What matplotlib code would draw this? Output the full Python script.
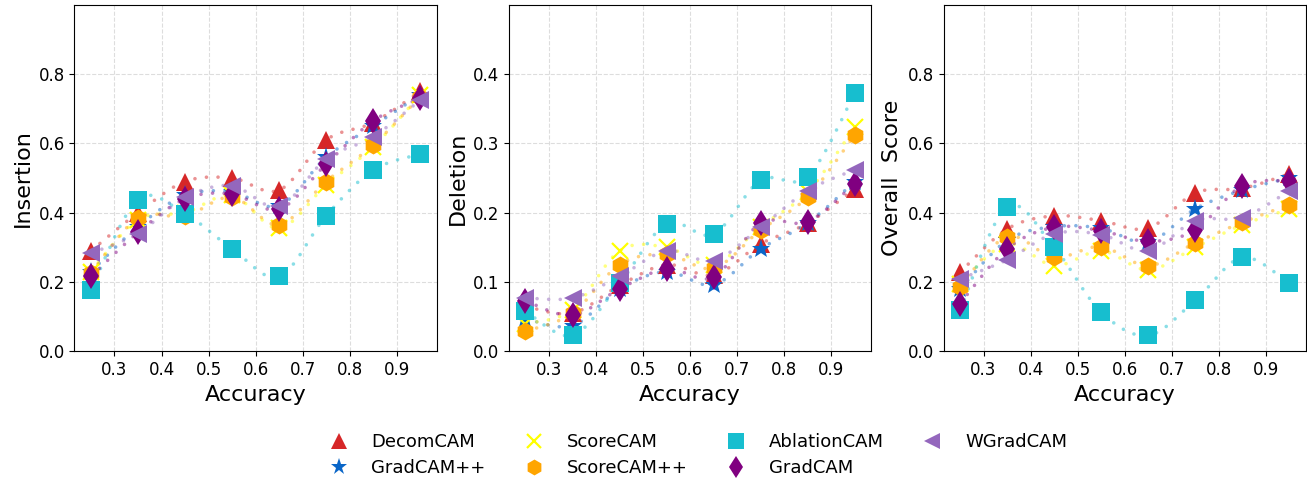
import numpy as np
import matplotlib
matplotlib.use("Agg")
import matplotlib.pyplot as plt
from matplotlib.path import Path
from matplotlib.patches import PathPatch

accuracy = [0.25, 0.35, 0.45, 0.55, 0.65, 0.75, 0.85, 0.95]

methods = ["DecomCAM", "GradCAM++", "ScoreCAM", "ScoreCAM++",
           "AblationCAM", "GradCAM", "WGradCAM"]

insertion = {
    "DecomCAM":    [0.29, 0.40, 0.49, 0.50, 0.465, 0.61, 0.66, 0.75],
    "GradCAM++":   [0.23, 0.36, 0.45, 0.46, 0.42, 0.56, 0.65, 0.74],
    "ScoreCAM":    [0.23, 0.38, 0.40, 0.45, 0.355, 0.48, 0.59, 0.74],
    "ScoreCAM++":  [0.225, 0.385, 0.39, 0.445, 0.365, 0.49, 0.595, 0.735],
    "AblationCAM": [0.178, 0.438, 0.397, 0.296, 0.216, 0.391, 0.523, 0.569],
    "GradCAM":     [0.216, 0.343, 0.44, 0.454, 0.41, 0.54, 0.665, 0.73],
    "WGradCAM":    [0.283, 0.34, 0.444, 0.478, 0.418, 0.555, 0.619, 0.725],
}

deletion = {
    "DecomCAM":    [0.065, 0.055, 0.095, 0.125, 0.11, 0.155, 0.185, 0.234],
    "GradCAM++":   [0.047, 0.037, 0.09, 0.115, 0.096, 0.148, 0.185, 0.245],
    "ScoreCAM":    [0.04, 0.06, 0.145, 0.15, 0.125, 0.18, 0.23, 0.323],
    "ScoreCAM++":  [0.029, 0.055, 0.125, 0.14, 0.12, 0.175, 0.223, 0.312],
    "AblationCAM": [0.058, 0.023, 0.098, 0.184, 0.169, 0.247, 0.252, 0.372],
    "GradCAM":     [0.073, 0.052, 0.09, 0.119, 0.107, 0.185, 0.187, 0.242],
    "WGradCAM":    [0.077, 0.077, 0.108, 0.145, 0.131, 0.179, 0.232, 0.262],
}

overall = {
    "DecomCAM":    [0.228, 0.353, 0.391, 0.377, 0.355, 0.457, 0.47, 0.512],
    "GradCAM++":   [0.18, 0.32, 0.36, 0.355, 0.315, 0.411, 0.465, 0.50],
    "ScoreCAM":    [0.195, 0.31, 0.247, 0.29, 0.235, 0.30, 0.365, 0.41],
    "ScoreCAM++":  [0.185, 0.331, 0.271, 0.302, 0.247, 0.313, 0.372, 0.423],
    "AblationCAM": [0.118, 0.417, 0.30, 0.113, 0.046, 0.147, 0.271, 0.196],
    "GradCAM":     [0.138, 0.296, 0.358, 0.348, 0.317, 0.35, 0.478, 0.492],
    "WGradCAM":    [0.209, 0.264, 0.339, 0.337, 0.29, 0.377, 0.386, 0.463],
}

colors = {
    "DecomCAM": "#d62728", "GradCAM++": "#0a66c8", "ScoreCAM": "#ffff00",
    "ScoreCAM++": "#ffa500", "AblationCAM": "#17becf", "GradCAM": "#800080",
    "WGradCAM": "#9467bd",
}
markers = {
    "DecomCAM": "^", "GradCAM++": "*", "ScoreCAM": "x", "ScoreCAM++": "h",
    "AblationCAM": "s", "GradCAM": "d", "WGradCAM": "<",
}


def smooth_path(xs, ys):
    # Catmull-Rom style bezier through the points, drawn by matplotlib
    pts = np.column_stack([xs, ys])
    verts = [pts[0]]
    codes = [Path.MOVETO]
    n = len(pts)
    for i in range(n - 1):
        p0 = pts[max(i - 1, 0)]
        p1 = pts[i]
        p2 = pts[i + 1]
        p3 = pts[min(i + 2, n - 1)]
        c1 = p1 + (p2 - p0) / 6.0
        c2 = p2 - (p3 - p1) / 6.0
        verts += [c1, c2, p2]
        codes += [Path.CURVE4] * 3
    return Path(verts, codes)


panels = [("Insertion", insertion, 1.0, [0.0, 0.2, 0.4, 0.6, 0.8]),
          ("Deletion", deletion, 0.5, [0.0, 0.1, 0.2, 0.3, 0.4]),
          ("Overall  Score", overall, 1.0, [0.0, 0.2, 0.4, 0.6, 0.8])]

fig, axes = plt.subplots(1, 3, figsize=(13.07, 4.78), dpi=100)
fig.subplots_adjust(left=0.057, right=0.999, top=0.99, bottom=0.265, wspace=0.2)

for ax, (label, data, ymax, yticks) in zip(axes, panels):
    for m in methods:
        c = colors[m]
        patch = PathPatch(smooth_path(accuracy, data[m]), facecolor="none",
                          edgecolor=c, alpha=0.5, lw=2.6,
                          linestyle=(0, (0.01, 3.2)), capstyle="round", zorder=2)
        ax.add_patch(patch)
        if markers[m] == "x":
            ax.plot(accuracy, data[m], linestyle="none", marker="x", color=c,
                    markersize=12, markeredgewidth=1.6, label=m, zorder=3)
        else:
            ax.plot(accuracy, data[m], linestyle="none", marker=markers[m],
                    color=c, markersize=13 if markers[m] != "*" else 14,
                    markeredgewidth=0, label=m, zorder=3)
    ax.set_ylim(0, ymax)
    ax.set_yticks(yticks)
    ax.set_xticks([0.3, 0.4, 0.5, 0.6, 0.7, 0.8, 0.9])
    ax.grid(True, linestyle="--", color="#dddddd", linewidth=0.8)
    ax.set_axisbelow(True)
    ax.tick_params(labelsize=12)
    ax.set_xlabel("Accuracy", fontsize=16)
    ax.set_ylabel(label, fontsize=16)

handles, labels = axes[1].get_legend_handles_labels()
axes[1].legend(handles, labels, loc="upper center", bbox_to_anchor=(0.51, -0.215),
               ncol=4, frameon=False, fontsize=13, columnspacing=1.7,
               handletextpad=0.8, labelspacing=0.45, borderaxespad=0,
               markerscale=0.88)

fig.savefig("out.png", dpi=100)
